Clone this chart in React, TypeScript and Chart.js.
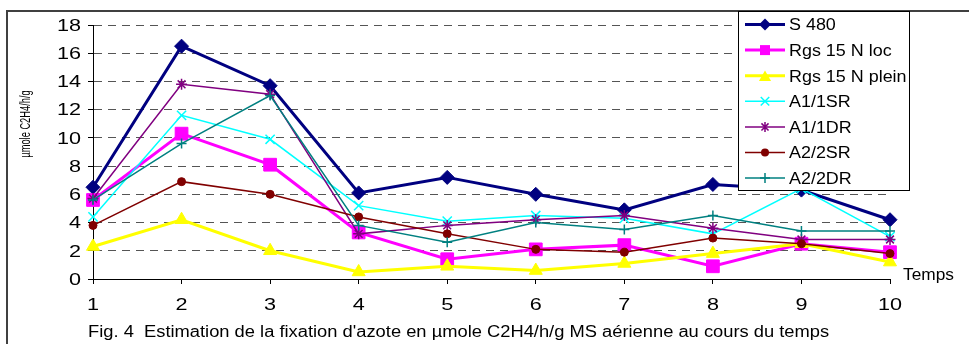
import React, { useEffect, useRef } from 'react';
import { Chart, registerables } from 'chart.js';

Chart.register(...registerables);

// Sampling times (x axis) and y-axis range
const categories = ['1', '2', '3', '4', '5', '6', '7', '8', '9', '10'];
const yMin = 0;
const yMax = 18;
const yStep = 2;

// Nitrogen fixation estimates, µmole C2H4/h/g
const s480 = [6.5, 16.5, 13.7, 6.1, 7.2, 6.0, 4.9, 6.7, 6.3, 4.2];
const rgs15NLoc = [5.6, 10.3, 8.1, 3.3, 1.4, 2.1, 2.4, 0.9, 2.5, 1.9];
const rgs15NPlein = [2.3, 4.2, 2.0, 0.5, 0.9, 0.6, 1.1, 1.8, 2.5, 1.2];
const a11SR = [4.4, 11.6, 9.9, 5.2, 4.1, 4.5, 4.3, 3.2, 6.4, 3.0];
const a11DR = [5.7, 13.8, 13.1, 3.2, 3.8, 4.2, 4.5, 3.6, 2.8, 2.8];
const a22SR = [3.8, 6.9, 6.0, 4.4, 3.2, 2.1, 1.9, 2.9, 2.5, 1.8];
const a22DR = [5.6, 9.6, 13.0, 3.8, 2.6, 4.0, 3.5, 4.5, 3.4, 3.4];

const seriesNames = ['S 480', 'Rgs 15 N loc', 'Rgs 15 N plein', 'A1/1SR', 'A1/1DR', 'A2/2SR', 'A2/2DR'];
const seriesValues = [s480, rgs15NLoc, rgs15NPlein, a11SR, a11DR, a22SR, a22DR];

const yAxisTitle = 'µmole C2H4/h/g';
const xAxisTitle = 'Temps';
const caption = "Fig. 4  Estimation de la fixation d'azote en µmole C2H4/h/g MS aérienne au cours du temps";

// Visual style of each series
const styles = [
  { color: '#000080', line: 3, point: 'rectRot', r: 7, pbw: 1, lr: 6 },
  { color: '#FF00FF', line: 3, point: 'rect', r: 9, pbw: 1, lr: 5 },
  { color: '#FFFF00', line: 3, point: 'triangle', r: 7.5, pbw: 1, lr: 7 },
  { color: '#00FFFF', line: 1.5, point: 'crossRot', r: 6.5, pbw: 1.5, lr: 6 },
  { color: '#800080', line: 1.5, point: 'star', r: 5.5, pbw: 1.5, lr: 5 },
  { color: '#800000', line: 1.5, point: 'circle', r: 4, pbw: 1, lr: 4 },
  { color: '#008080', line: 1.5, point: 'cross', r: 5, pbw: 1.5, lr: 5 },
];

const FONT = '"Liberation Sans", Arial, sans-serif';

function stretchedText(
  ctx: CanvasRenderingContext2D,
  text: string,
  x: number,
  y: number,
  size: number,
  sx: number,
  align: CanvasTextAlign,
) {
  ctx.save();
  ctx.translate(x, y);
  ctx.scale(sx, 1);
  ctx.font = `${size}px ${FONT}`;
  ctx.fillStyle = '#000';
  ctx.textAlign = align;
  ctx.textBaseline = 'alphabetic';
  ctx.fillText(text, 0, 0);
  ctx.restore();
}

function drawMarker(ctx: CanvasRenderingContext2D, style: string, x: number, y: number, r: number, color: string) {
  ctx.save();
  ctx.fillStyle = color;
  ctx.strokeStyle = color;
  ctx.lineWidth = 1.5;
  ctx.beginPath();
  switch (style) {
    case 'rectRot':
      ctx.moveTo(x - r, y);
      ctx.lineTo(x, y - r);
      ctx.lineTo(x + r, y);
      ctx.lineTo(x, y + r);
      ctx.closePath();
      ctx.fill();
      break;
    case 'rect':
      ctx.rect(x - r, y - r, 2 * r, 2 * r);
      ctx.fill();
      break;
    case 'triangle':
      ctx.moveTo(x, y - r * 0.75);
      ctx.lineTo(x + r * 0.866, y + r * 0.75);
      ctx.lineTo(x - r * 0.866, y + r * 0.75);
      ctx.closePath();
      ctx.fill();
      break;
    case 'circle':
      ctx.arc(x, y, r, 0, Math.PI * 2);
      ctx.fill();
      break;
    case 'crossRot': {
      const d = r * 0.707;
      ctx.moveTo(x - d, y - d);
      ctx.lineTo(x + d, y + d);
      ctx.moveTo(x + d, y - d);
      ctx.lineTo(x - d, y + d);
      ctx.stroke();
      break;
    }
    case 'star': {
      const d = r * 0.707;
      ctx.moveTo(x - d, y - d);
      ctx.lineTo(x + d, y + d);
      ctx.moveTo(x + d, y - d);
      ctx.lineTo(x - d, y + d);
      ctx.moveTo(x, y - r);
      ctx.lineTo(x, y + r);
      ctx.stroke();
      break;
    }
    case 'cross':
      ctx.moveTo(x - r, y);
      ctx.lineTo(x + r, y);
      ctx.moveTo(x, y - r);
      ctx.lineTo(x, y + r);
      ctx.stroke();
      break;
  }
  ctx.restore();
}

const framePlugin = {
  id: 'frame',
  beforeDraw(chart: any) {
    const ctx = chart.ctx as CanvasRenderingContext2D;
    ctx.save();
    ctx.fillStyle = '#fff';
    ctx.fillRect(0, 0, chart.width, chart.height);
    ctx.strokeStyle = '#404040';
    ctx.lineWidth = 2;
    ctx.beginPath();
    ctx.moveTo(7, chart.height);
    ctx.lineTo(7, 11);
    ctx.lineTo(chart.width, 11);
    ctx.stroke();
    ctx.restore();
  },
};

const labelsPlugin = {
  id: 'labels',
  afterDraw(chart: any) {
    const ctx = chart.ctx as CanvasRenderingContext2D;
    const ys = chart.scales.y;
    const xs = chart.scales.x;

    // y tick labels
    ys.ticks.forEach((t: any) => {
      const py = ys.getPixelForValue(t.value);
      stretchedText(ctx, String(t.value), ys.right - 12, py + 5.8, 16, 1.35, 'right');
    });
    // x tick labels
    xs.getLabels().forEach((lab: string, i: number) => {
      const px = xs.getPixelForTick(i);
      stretchedText(ctx, lab, px, 310, 16, 1.35, 'center');
    });

    // axis titles
    stretchedText(ctx, xAxisTitle, 903, 280, 16, 1.08, 'left');
    ctx.save();
    ctx.translate(30, 124);
    ctx.rotate(-Math.PI / 2);
    ctx.scale(0.6, 1);
    ctx.font = `15.5px ${FONT}`;
    ctx.fillStyle = '#000';
    ctx.textAlign = 'center';
    ctx.textBaseline = 'alphabetic';
    ctx.fillText(yAxisTitle, 0, 0);
    ctx.restore();

    // caption
    stretchedText(ctx, caption, 88, 337, 16, 1.145, 'left');

    // legend box
    const lx = 738;
    const ly = 11;
    const lw = 171;
    const lh = 179;
    ctx.save();
    ctx.fillStyle = '#fff';
    ctx.fillRect(lx, ly, lw, lh);
    ctx.strokeStyle = '#000';
    ctx.lineWidth = 1;
    ctx.strokeRect(lx + 0.5, ly + 0.5, lw, lh);
    ctx.restore();
    seriesNames.forEach((name, i) => {
      const st = styles[i];
      const ry = 24.5 + i * 25.6;
      ctx.save();
      ctx.strokeStyle = st.color;
      ctx.lineWidth = st.line;
      ctx.beginPath();
      ctx.moveTo(745, ry);
      ctx.lineTo(785, ry);
      ctx.stroke();
      ctx.restore();
      drawMarker(ctx, st.point, 765, ry, st.lr, st.color);
      stretchedText(ctx, name, 789, ry + 5.8, 16, 1.12, 'left');
    });
  },
};

export default function App() {
  const canvasRef = useRef<HTMLCanvasElement | null>(null);

  useEffect(() => {
    const canvas = canvasRef.current;
    if (!canvas) return;
    const datasets = seriesValues.map((vals, i) => {
      const st = styles[i];
      return {
        label: seriesNames[i],
        data: vals,
        borderColor: st.color,
        backgroundColor: st.color,
        borderWidth: st.line,
        pointStyle: st.point as any,
        pointRadius: st.r,
        pointBorderWidth: st.pbw,
        pointBackgroundColor: st.color,
        pointBorderColor: st.color,
        tension: 0,
        fill: false,
        order: seriesNames.length - i,
      };
    });
    const chart = new Chart(canvas, {
      type: 'line',
      data: { labels: categories, datasets },
      options: {
        animation: false,
        responsive: false,
        devicePixelRatio: 1,
        events: [],
        layout: { padding: { top: 25, right: 79, bottom: 0, left: 0 } },
        plugins: {
          legend: { display: false },
          tooltip: { enabled: false },
          title: { display: false },
        },
        scales: {
          x: {
            type: 'category',
            offset: false,
            ticks: { display: false },
            grid: {
              drawOnChartArea: false,
              drawTicks: true,
              tickLength: 5,
              tickColor: '#000',
              color: '#000',
            },
            border: { display: true, color: '#000', width: 1 },
            afterFit: (scale: any) => {
              scale.height = 65;
            },
          },
          y: {
            min: yMin,
            max: yMax,
            ticks: { display: false, stepSize: yStep },
            grid: {
              drawOnChartArea: true,
              drawTicks: true,
              tickLength: 5,
              tickColor: '#000',
              tickBorderDash: [],
              color: '#555',
              lineWidth: 1,
            },
            border: { display: true, color: '#000', width: 1, dash: [8, 6] },
            afterFit: (scale: any) => {
              scale.width = 93;
            },
          },
        },
      },
      plugins: [framePlugin, labelsPlugin],
    });
    return () => chart.destroy();
  }, []);

  return (
    <div style={{ position: 'absolute', left: 0, top: 0, width: 969, height: 344 }}>
      <canvas ref={canvasRef} width={969} height={344} style={{ display: 'block' }} />
    </div>
  );
}
